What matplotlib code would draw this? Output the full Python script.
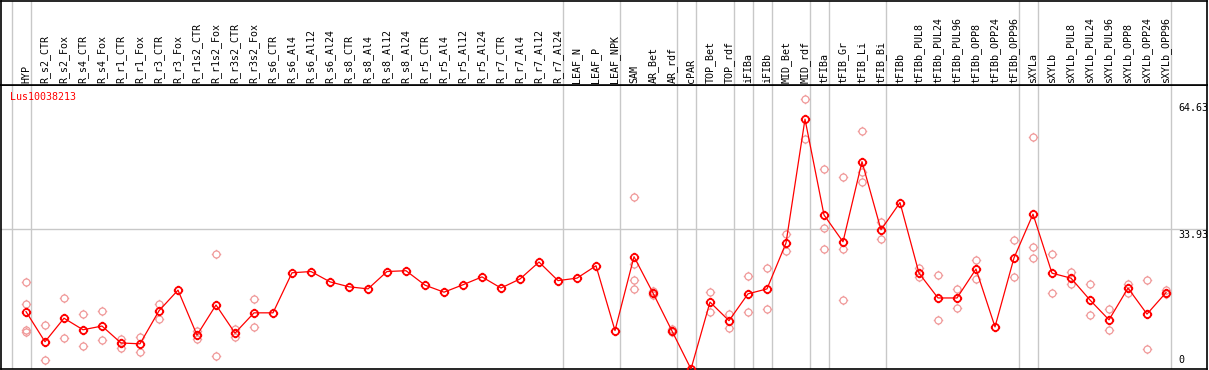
import matplotlib
matplotlib.use('Agg')
import matplotlib.pyplot as plt
import matplotlib.transforms as mtransforms
from matplotlib.path import Path

gene = 'Lus10038213'

samples = [
    'HYP', 'R_s2_CTR', 'R_s2_Fox', 'R_s4_CTR', 'R_s4_Fox', 'R_r1_CTR', 'R_r1_Fox',
    'R_r3_CTR', 'R_r3_Fox', 'R_r1s2_CTR', 'R_r1s2_Fox', 'R_r3s2_CTR', 'R_r3s2_Fox',
    'R_s6_CTR', 'R_s6_Al4', 'R_s6_Al12', 'R_s6_Al24', 'R_s8_CTR', 'R_s8_Al4',
    'R_s8_Al12', 'R_s8_Al24', 'R_r5_CTR', 'R_r5_Al4', 'R_r5_Al12', 'R_r5_Al24',
    'R_r7_CTR', 'R_r7_Al4', 'R_r7_Al12', 'R_r7_Al24', 'LEAF_N', 'LEAF_P', 'LEAF_NPK',
    'SAM', 'AR_Bet', 'AR_rdf', 'cPAR', 'TOP_Bet', 'TOP_rdf', 'iFIBa', 'iFIBb',
    'MID_Bet', 'MID_rdf', 'tFIBa', 'tFIB_Gr', 'tFIB_Li', 'tFIB_Bi', 'tFIBb',
    'tFIBb_PUL8', 'tFIBb_PUL24', 'tFIBb_PUL96', 'tFIBb_OPP8', 'tFIBb_OPP24',
    'tFIBb_OPP96', 'sXYLa', 'sXYLb', 'sXYLb_PUL8', 'sXYLb_PUL24', 'sXYLb_PUL96',
    'sXYLb_OPP8', 'sXYLb_OPP24', 'sXYLb_OPP96',
]

# number of samples in each tissue group (separated by grey lines)
group_sizes = [1, 28, 3, 3, 1, 2, 1, 1, 2, 1, 3, 7, 1, 7]

means = [
    13.9, 6.6, 12.3, 9.5, 10.4, 6.3, 6.1, 14.1, 19.1, 8.2, 15.5, 8.7, 13.6,
    13.6, 23.3, 23.6, 21.1, 19.9, 19.4, 23.6, 23.8, 20.3, 18.6, 20.4, 22.3,
    19.6, 21.8, 25.9, 21.4, 22.0, 25.0, 9.3,
    27.2, 18.4, 9.2, 0.0, 16.2, 11.7, 18.2, 19.4, 30.5, 60.5, 37.3, 30.8,
    50.2, 33.7, 40.3, 23.2, 17.2, 17.2, 24.2, 10.2, 26.9, 37.5, 23.2, 22.0,
    16.7, 11.9, 19.6, 13.3, 18.5,
]

# replicate values that are visible apart from the mean marker
replicates = [
    [21.1, 15.8, 9.5, 9.0], [10.7, 2.2], [17.2, 7.6], [13.3, 5.6], [14.1, 7.0],
    [7.3, 5.2], [7.8, 4.0], [15.8, 12.1], [], [9.3, 7.2], [27.8, 3.1],
    [9.8, 7.8], [16.9, 10.2],
    [], [], [], [], [], [], [], [], [], [], [], [], [], [], [], [], [], [], [],
    [41.6, 25.4, 21.5, 19.4], [18.9, 18.0], [9.6, 8.9], [], [18.7, 13.9],
    [13.4, 9.9], [22.6, 13.9], [24.5, 14.5], [32.7, 28.5], [65.4, 55.8],
    [48.4, 34.2, 29.1], [46.5, 29.1, 16.7], [57.6, 47.6, 45.2], [35.5, 31.5], [],
    [24.4, 22.3], [22.8, 11.9], [19.4, 14.7], [26.4, 21.8], [], [31.2, 22.3],
    [56.2, 29.5, 26.9], [27.9, 18.4], [23.6, 20.6], [20.7, 13.1], [14.5, 9.4],
    [20.7, 18.4], [21.5, 4.8], [19.1, 18.2],
]

y_labels = ['64.63', '33.93', '0']
y_label_values = [64.63, 33.93, 0]
grid_value = 33.93

W, H = 1209, 370
fig = plt.figure(figsize=(W / 100, H / 100), dpi=100)

# pixel layout
left, right = 1, 1207
head_bot = 85
plot_bot = 369
ax = fig.add_axes([left / W, (H - plot_bot) / H, (right - left) / W, (plot_bot - head_bot) / H])
hd = fig.add_axes([left / W, (H - head_bot) / H, (right - left) / W, (head_bot - 0.5) / H], sharex=ax)

# x scale: 19 px per sample, first sample at px 26
xmin = (left - 26) / 19
xmax = (right - 26) / 19
ax.set_xlim(xmin, xmax)
ax.set_ylim(0, 284 / 4.13)

mono = 'DejaVu Sans Mono'
grey = '#c8c8c8'

# group separators
bounds = [-1]
pos = -1
for g in group_sizes:
    pos += g
    bounds.append(pos)
for b in bounds:
    for a in (ax, hd):
        a.axvline(b + 0.24, color=grey, lw=1, zorder=0)
ax.axhline(grid_value, color=grey, lw=1, zorder=0)

# marker: open circle with little ticks
circ = Path.unit_circle()
ticks = Path([(0, 1), (0, 1.35), (0, -1), (0, -1.35), (1, 0), (1.35, 0), (-1, 0), (-1.35, 0)],
             [Path.MOVETO, Path.LINETO] * 4)
gear = Path.make_compound_path(circ, ticks)

xs = list(range(len(samples)))
rx = [i for i, r in enumerate(replicates) for _ in r]
ry = [v for r in replicates for v in r]
ax.plot(rx, ry, ls='none', marker=gear, ms=6.8, mfc='none', mec='#f09a9a', mew=0.9,
        zorder=2, clip_on=False)
ax.plot(xs, means, color='red', lw=0.9, zorder=3)
ax.plot(xs, means, ls='none', marker=gear, ms=6.8, mfc='none', mec='red', mew=1.3,
        zorder=4, clip_on=True)

# right side value labels
tr = mtransforms.blended_transform_factory(ax.transAxes, ax.transData)
lx = (1178 - left) / (right - left)
for lab, v in zip(y_labels, y_label_values):
    va = 'bottom' if v == 0 else 'top'
    off = mtransforms.ScaledTranslation(0, 4 / 100 if v == 0 else -1 / 100, fig.dpi_scale_trans)
    ax.text(lx, v, lab, transform=tr + off, ha='left', va=va, fontsize=7.2,
            family=mono, color='black')

ax.text(9 / (right - left), 1 - 7 / (plot_bot - head_bot), gene, transform=ax.transAxes,
        ha='left', va='top', fontsize=7.2, family=mono, color='red')

# header labels
hd.set_ylim(0, 1)
htr = mtransforms.blended_transform_factory(hd.transData, hd.transAxes)
for i, s in enumerate(samples):
    hd.text(i, 0.025, s, transform=htr, rotation=90, ha='center', va='bottom',
            fontsize=7.2, family=mono, color='black')

for a in (ax, hd):
    a.set_xticks([])
    a.set_yticks([])
    for sp in a.spines.values():
        sp.set_color('black')
        sp.set_linewidth(1.2)

fig.savefig('out.png', dpi=100, facecolor='white')
